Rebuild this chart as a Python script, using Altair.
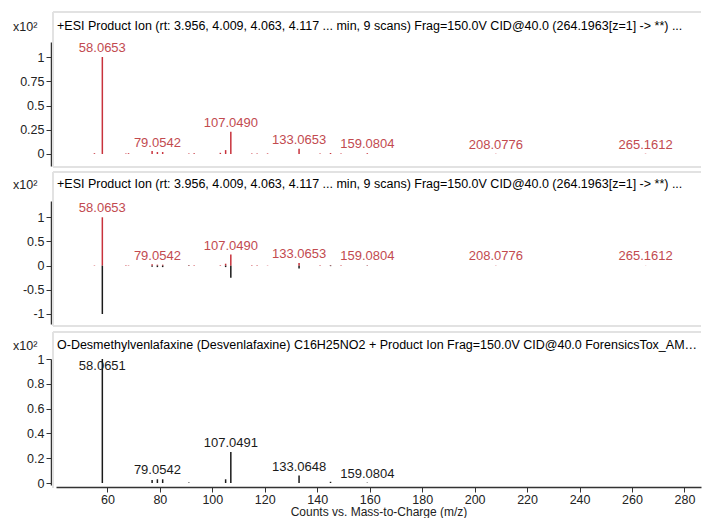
import altair as alt
import pandas as pd

# ---------------- data ----------------
# Acquired spectrum (red): m/z, relative abundance (x10^2), label
exp_mz = [55.05, 58.0653, 67.05, 68.05, 77.04, 79.0542, 81.07, 91.05, 93.07,
          103.05, 105.07, 107.0490, 115.05, 117.07, 121.06, 133.0653, 141.07,
          145.06, 149.06, 159.0804, 208.0776, 265.1612]
exp_int = [0.008, 1.0, 0.006, 0.008, 0.03, 0.02, 0.02, 0.006, 0.008,
           0.012, 0.04, 0.23, 0.006, 0.006, 0.006, 0.055, 0.006,
           0.01, 0.006, 0.008, 0.003, 0.003]
exp_labels = ["", "58.0653", "", "", "", "79.0542", "", "", "",
              "", "", "107.0490", "", "", "", "133.0653", "",
              "", "", "159.0804", "208.0776", "265.1612"]

# Library spectrum (black)
lib_mz = [58.0651, 77.04, 79.0542, 81.07, 91.05, 105.07, 107.0491, 133.0648, 145.06, 159.0804]
lib_int = [1.0, 0.025, 0.03, 0.03, 0.005, 0.03, 0.25, 0.06, 0.01, 0.003]
lib_labels = ["58.0651", "", "79.0542", "", "", "", "107.0491", "133.0648", "", "159.0804"]

title_top = ("+ESI Product Ion (rt: 3.956, 4.009, 4.063, 4.117 ... min, 9 scans) "
             "Frag=150.0V CID@40.0 (264.1963[z=1] -> **) ...")
title_lib = ("O-Desmethylvenlafaxine (Desvenlafaxine) C16H25NO2 + Product Ion "
             "Frag=150.0V CID@40.0 ForensicsTox_AM_PCDL")
x_title = "Counts vs. Mass-to-Charge (m/z)"
unit_text = "x10\u00b2"

y1_ticks = [0, 0.25, 0.5, 0.75, 1]
y2_ticks = [-1, -0.5, 0, 0.5, 1]
y3_ticks = [0, 0.2, 0.4, 0.6, 0.8, 1]
x_ticks = [60, 80, 100, 120, 140, 160, 180, 200, 220, 240, 260, 280]

# ---------------- styling ----------------
FONT = "Liberation Sans"
RED_LINE = "#c8323c"
RED_TEXT = "#c24a4f"
BLACK = "#1a1a1a"
BOX = "#e2e2e2"
W = 645
XDOM = [40.4, 286.3]

exp_df = pd.DataFrame({"mz": exp_mz, "int": exp_int, "label": exp_labels})
lib_df = pd.DataFrame({"mz": lib_mz, "int": lib_int, "label": lib_labels})
one = pd.DataFrame({"a": [0]})


def xenc(axis=None):
    return alt.X("mz:Q", scale=alt.Scale(domain=XDOM, nice=False, zero=False), axis=axis)


def yaxis(vals):
    return alt.Axis(values=vals, labelExpr="datum.value + ''", offset=5, grid=False,
                    title=None, domainColor="#333", domainWidth=1.5, tickColor="#333",
                    tickSize=5, labelFontSize=12.5, labelColor="#222", labelFont=FONT,
                    labelPadding=2)


def yenc(field, dom, vals):
    return alt.Y(field, scale=alt.Scale(domain=dom, nice=False, zero=False), axis=yaxis(vals))


def frame(top, bottom, with_bottom=True):
    base = alt.Chart(one).mark_rule(color=BOX, strokeWidth=2)
    parts = [
        base.encode(x=alt.value(-3), x2=alt.value(W), y=alt.value(top)),
        base.encode(x=alt.value(-3), y=alt.value(top), y2=alt.value(bottom)),
    ]
    if with_bottom:
        parts.append(base.encode(x=alt.value(-3), x2=alt.value(W), y=alt.value(bottom)))
    return alt.layer(*parts)


def head(text, y):
    t = alt.Chart(one).mark_text(align="left", baseline="middle", fontSize=12.5, font=FONT,
                                 color="black", limit=644).encode(
        x=alt.value(1), y=alt.value(y), text=alt.value(text))
    u = alt.Chart(one).mark_text(align="left", baseline="middle", fontSize=12.5, font=FONT,
                                 color="#222").encode(
        x=alt.value(-43), y=alt.value(y + 1), text=alt.value(unit_text))
    return t + u


def rules(df, color, dom, vals, neg=False, xaxis=None):
    base = alt.Chart(df)
    if neg:
        base = base.transform_calculate(v="-datum.int")
        f = "v:Q"
    else:
        f = "int:Q"
    return base.mark_rule(color=color, strokeWidth=1.5).encode(
        x=xenc(xaxis), y=yenc(f, dom, vals), y2=alt.datum(0))


def labels(df, color, dom, vals, cap, xaxis=None):
    return alt.Chart(df).transform_filter("datum.label != ''").transform_calculate(
        ly=f"min(datum.int, {cap})").mark_text(
        align="center", baseline="alphabetic", dy=-5, fontSize=13, font=FONT, color=color
    ).encode(x=xenc(xaxis), y=yenc("ly:Q", dom, vals), text="label:N")


# Panel 1: acquired spectrum
D1 = [-0.124, 1.155]
p1 = alt.layer(
    frame(-30, 125), head(title_top, -16),
    rules(exp_df, RED_LINE, D1, y1_ticks),
    labels(exp_df, RED_TEXT, D1, y1_ticks, 5),
).properties(width=W, height=124)

# Panel 2: mirror plot
D2 = [-1.207, 1.337]
p2 = alt.layer(
    frame(-29, 125), head(title_top, -17),
    rules(exp_df, RED_LINE, D2, y2_ticks),
    rules(lib_df, BLACK, D2, y2_ticks, neg=True),
    labels(exp_df, RED_TEXT, D2, y2_ticks, 5),
).properties(width=W, height=123)

# Panel 3: library spectrum
D3 = [-0.016, 1.0]
xax = alt.Axis(values=x_ticks, format="d", offset=2, grid=False, title=x_title,
               titleFontSize=12, titleFontWeight="normal", titleFont=FONT, titleColor="#222",
               titlePadding=1, domainColor="#333", domainWidth=1.5, tickColor="#333",
               tickSize=5, labelFontSize=12.5, labelColor="#222", labelFont=FONT, labelPadding=1)
p3 = alt.layer(
    rules(lib_df, BLACK, D3, y3_ticks, xaxis=xax),
    frame(-27, 129, with_bottom=False), head(title_lib, -14),
    labels(lib_df, BLACK, D3, y3_ticks, 0.87, xaxis=xax),
).properties(width=W, height=126)

chart = alt.vconcat(p1, p2, p3, spacing=35, bounds="flush").resolve_scale(
    y="independent"
).properties(
    padding={"left": 5, "top": 3, "right": 0, "bottom": 0}
).configure_view(stroke=None)

chart.save("out.html", embed_options={"renderer": "svg", "actions": False})
